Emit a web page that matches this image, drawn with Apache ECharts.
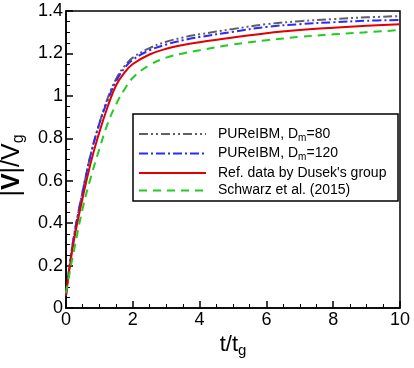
<!DOCTYPE html>
<html>
<head>
<meta charset="utf-8">
<script src="https://cdn.jsdelivr.net/npm/echarts@6/dist/echarts.min.js"></script>
<style>
  html, body { margin: 0; padding: 0; background: #fff; }
  #chart { width: 414px; height: 368px; }
</style>
</head>
<body>
<div id="chart"></div>
<script>
// t/tg sample points shared by all curves
const tValues = [0, 0.1, 0.25, 0.5, 0.75, 1, 1.25, 1.5, 1.75, 2, 2.5, 3, 3.5, 4, 5, 6, 7, 8, 9, 10]

const pureibm80 = [0.06, 0.19, 0.35, 0.55, 0.73, 0.87, 0.99, 1.08, 1.14, 1.18, 1.225, 1.255, 1.275, 1.29, 1.315, 1.338, 1.352, 1.362, 1.37, 1.376]
const pureibm120 = [0.06, 0.19, 0.35, 0.55, 0.73, 0.87, 0.98, 1.07, 1.13, 1.17, 1.215, 1.242, 1.262, 1.277, 1.302, 1.325, 1.338, 1.347, 1.354, 1.358]
const refDusek = [0.06, 0.18, 0.33, 0.52, 0.69, 0.83, 0.95, 1.05, 1.11, 1.15, 1.195, 1.222, 1.24, 1.253, 1.275, 1.295, 1.31, 1.321, 1.33, 1.337]
const schwarz = [0.07, 0.16, 0.28, 0.47, 0.62, 0.75, 0.87, 0.96, 1.03, 1.085, 1.145, 1.18, 1.2, 1.215, 1.242, 1.262, 1.278, 1.29, 1.3, 1.31]

const xTicks = [0, 10, 2]
const yTicks = [0, 1.4, 0.2]

const legendNames = ['PUReIBM, D{s|m}=80', 'PUReIBM, D{s|m}=120', "Ref. data by Dusek's group", 'Schwarz et al. (2015)']

function pairs(ys) {
  return tValues.map((t, i) => [t, ys[i]])
}

const chart = echarts.init(document.getElementById('chart'))

const font = 'Liberation Sans, Arial, Helvetica, sans-serif'

const seriesDefs = [
  { data: pureibm80, color: '#606060', type: [9, 3, 2, 3, 2, 3] },
  { data: pureibm120, color: '#2a2aff', type: [9, 3, 2, 3] },
  { data: refDusek, color: '#e00000', type: 'solid' },
  { data: schwarz, color: '#22cc22', type: [8, 6] }
]

chart.setOption({
  animation: false,
  grid: {
    left: 66,
    right: 14,
    top: 11,
    bottom: 60,
    outerBoundsMode: 'none',
    containLabel: false,
    show: true,
    borderColor: '#000',
    borderWidth: 1.5
  },
  legend: {
    orient: 'vertical',
    left: 138,
    top: 127,
    padding: 0,
    itemWidth: 67,
    itemHeight: 14,
    itemGap: 3.5,
    z: 5,
    data: legendNames,
    itemStyle: { color: 'transparent', borderWidth: 0, opacity: 0 },
    textStyle: {
      fontFamily: font,
      fontSize: 14,
      color: '#000',
      padding: [0, 0, 0, 7],
      rich: {
        s: { fontSize: 10, verticalAlign: 'bottom', padding: [8, 0, 0, 0], fontFamily: font, color: '#000' }
      }
    }
  },
  graphic: [{
    type: 'rect',
    shape: { x: 133, y: 114, width: 265, height: 87 },
    style: { fill: '#fff', stroke: '#000', lineWidth: 1.5 },
    z: 2
  }],
  xAxis: {
    type: 'value',
    min: xTicks[0],
    max: xTicks[1],
    interval: xTicks[2],
    name: '{a|t/t}{s|g}',
    nameLocation: 'middle',
    nameGap: 11,
    nameTextStyle: {
      rich: {
        a: { fontFamily: font, fontSize: 22, color: '#000' },
        s: { fontFamily: font, fontSize: 15, color: '#000', verticalAlign: 'bottom', padding: [12, 0, 0, 0] }
      }
    },
    axisLine: { lineStyle: { color: '#000', width: 1.5 } },
    axisTick: { inside: true, length: 7, lineStyle: { color: '#000', width: 1.5 } },
    minorTick: { show: true, splitNumber: 4, length: 4, lineStyle: { color: '#000', width: 1 } },
    axisLabel: { fontFamily: font, fontSize: 18, color: '#000', margin: 3 },
    splitLine: { show: false }
  },
  yAxis: {
    type: 'value',
    min: yTicks[0],
    max: yTicks[1],
    interval: yTicks[2],
    name: '{a||}{b|V}{a||/V}{s|g}',
    nameLocation: 'middle',
    nameGap: 33,
    nameTextStyle: {
      padding: [0, 12, 0, 0],
      rich: {
        a: { fontFamily: font, fontSize: 25, color: '#000' },
        b: { fontFamily: font, fontSize: 25, color: '#000', fontWeight: 'bold' },
        s: { fontFamily: font, fontSize: 16, color: '#000', verticalAlign: 'bottom', padding: [13, 0, 0, 0] }
      }
    },
    axisLine: { lineStyle: { color: '#000', width: 1.5 } },
    axisTick: { inside: true, length: 7, lineStyle: { color: '#000', width: 1.5 } },
    minorTick: { show: true, splitNumber: 4, length: 4, lineStyle: { color: '#000', width: 1 } },
    axisLabel: { fontFamily: font, fontSize: 18, color: '#000', margin: 3 },
    splitLine: { show: false }
  },
  series: seriesDefs.map((s, i) => ({
    name: legendNames[i],
    type: 'line',
    data: pairs(s.data),
    smooth: 0.4,
    showSymbol: false,
    symbol: 'none',
    color: s.color,
    lineStyle: { color: s.color, width: 2, type: s.type },
    z: 1
  }))
})
</script>
</body>
</html>
